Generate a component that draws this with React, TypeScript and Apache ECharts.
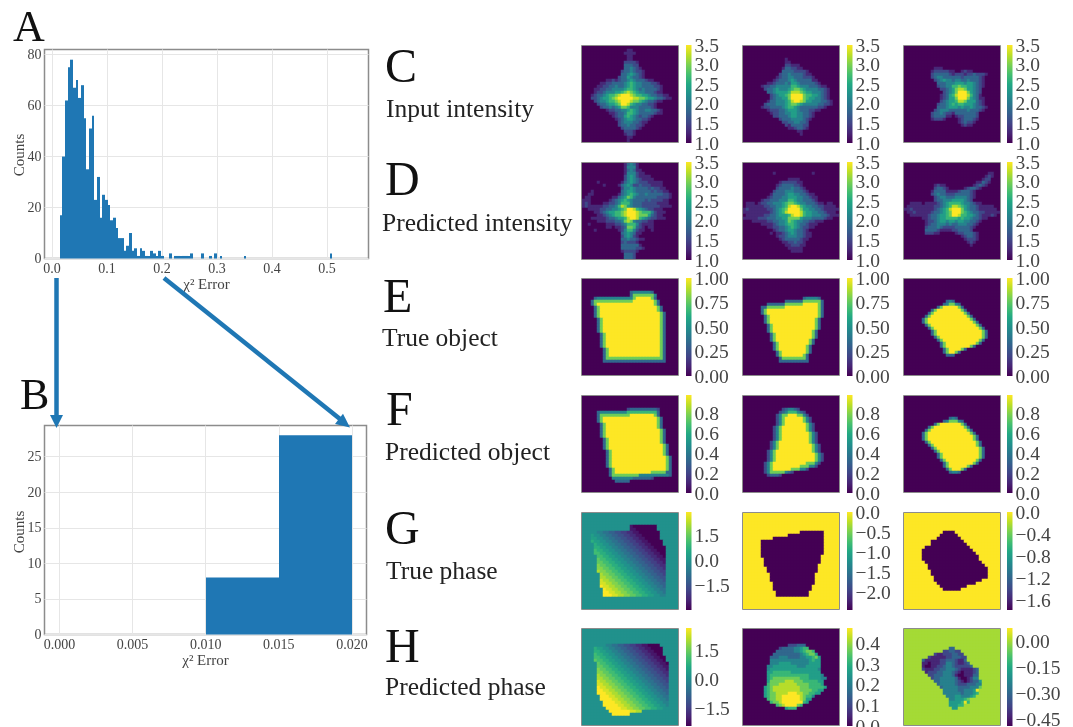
import React, { useEffect, useRef } from "react";
import * as echarts from "echarts";

const SERIF = "Liberation Serif";
const BLUE = "#1f77b4";
const VIRIDIS = ["#440154", "#482475", "#414487", "#355f8d", "#2a788e", "#21918c", "#22a884", "#44bf70", "#7ad151", "#bddf26", "#fde725"];

const histAStarts = [0.0139, 0.0188, 0.0236, 0.0285, 0.0333, 0.0382, 0.043, 0.0479, 0.0527, 0.0576, 0.0624, 0.0673, 0.0721, 0.077, 0.0818, 0.0867, 0.0915, 0.0964, 0.1012, 0.1061, 0.1109, 0.1158, 0.1206, 0.1255, 0.1303, 0.1352, 0.14, 0.1449, 0.1497, 0.1546, 0.1594, 0.1643, 0.1691, 0.174, 0.1788, 0.1837, 0.1885, 0.1934, 0.1982, 0.2127, 0.2224, 0.2273, 0.2321, 0.237, 0.2418, 0.2467, 0.2515, 0.2709, 0.2855, 0.2952, 0.3049, 0.3486, 0.505];
const histACounts = [17, 40, 62, 75, 78, 67, 70, 63, 68, 55, 35, 51, 56, 23, 32, 16, 25, 23, 21, 15, 16, 12, 8, 8, 3, 5, 10, 3, 4, 1, 4, 3, 1, 1, 3, 2, 1, 3, 1, 2, 1, 1, 1, 1, 1, 1, 2, 2, 1, 2, 1, 1, 2];
const histAWidth = 0.00485;
const histBStarts = [0.01, 0.015];
const histBCounts = [8, 28];
const histBWidth = 0.005;
const histAXTicks = [0, 0.1, 0.2, 0.3, 0.4, 0.5];
const histBXTicks = [0, 0.005, 0.01, 0.015, 0.02];
const histAYTicks = [0, 20, 40, 60, 80];
const histBYTicks = [0, 5, 10, 15, 20, 25];

const c1 = ["1|", "0x15 11", "0x14 1111", "0x15 11", "0x15 11", "0x14 22221", "0x14 33322", "0x14 334321", "0x13 23343221", "0x13 33454321", "0x12 233543321", "0x8 1121233454333211", "0x6 112233334565443332 21", "0x5 1122334334565443333221", "0x4 11223344445665434333321", "0x4 12234445567876544333211", "0x3 123345667899987665543322 11", "0x3 223455678999998877655433 211", "0x4 2344566789998776543321 1", "0x5 233455679986544332 21", "0x6 2334345776444333321", "0x8 1223344565433443321", "0x9 112334665433333211", "0x10 12335654323321", "0x11 123455433221", "0x12 2344433211", "0x12 233433221", "0x13 2333321", "0x14 2221", "0x14 1221", "0x15 11", "0x15 1"];
const c2 = ["4|", "0x14 1", "0x14 11", "0x14 22111", "0x13 1332211", "0x13 333322221", "0x12 23343333211", "0x11 1233443332221", "0x10 123334543333311", "0x8 112333435543333321", "0x6 1223344444665444333211", "0x7 2334544456776544443321", "0x8 334555568887655444321", "0x9 23455679999766554321", "0x9 23445579999765544321", "0x8 1334445689987554443321", "0x7 23334445677654444433221", "0x6 1223333456654333333221", "0x8 122233455543332211", "0x9 122334455443321", "0x10 22333455443321", "0x12 23334444321", "0x13 223344332", "0x14 21333322", "0x15 1123321", "0x18 11", "0x19 1"];
const c3 = ["7|", "0x10 111", "0x9 12222211 00 1211", "0x9 2333332122212232221", "0x9 234433333323333321", "0x10 23454434433433321", "0x11 3334445554554321", "0x11 2334466766554321", "0x12 22345788755432", "0x13 2345799975432", "0x12 12356899986431", "0x12 123557999754311", "0x12 234556887555321", "0x11 2334565665554321", "0x11 33345554544543321", "0x10 234443333334333 21", "0x9 2334322133333332", "0x9 2333311012233332", "0x9 1222100001233321", "0x18 123221", "0x19 1211"];
const d1 = ["0x14 13431", "0x14 14441", "0x14 134311", "0x14 1444211", "0x14 245421111", "0x14 2454321111", "0x5 1 0x7 134543222 11111", "0x7 1 0x4 134542232221111", "0x13 2445433332322 11", "0x3 1 0x9 345543333323 2211", "0x2 11 0x8 1345654334333332 21", "0 11 0x7 11345764333333322221", "111 0x6 123456543333232222 11", "121 0000 11223466643332222211 11", "121111122334687543332222221111", "0x2 1111223344567998654322111", "0x4 1123455667899987666421 11", "0x5 1123456678999877753211", "0x3 111112334556899865432211 1", "0x5 1112223347874332211", "0x2 1 0x5 111223466642 1111", "0x8 11 0 112377632101 1", "0x4 1 0x7 12466421100 1", "0x13 3454311", "0x13 245421", "0x13 33433211", "0x13 232221", "0x13 3333331", "0x13 33333221", "0x13 122221", "0x14 3332", "0x14 3332"];
const d2 = ["3|", "0x10 1 0x12 1", "1|", "0x15 1111", "0x12 12222211", "0x11 123333221", "0x11 2333343321", "0x10 233344433321", "0x9 133334554433211", "0x8 12333445554433211", "0x6 1223334446654433321", "0111 0 1223344456776544333211011", "0111111223344568998654433221111", "12111111223456799997554433211111", "11111111123456899998655443321 11", "0111111223345556899865544433211 1", "111112223334455777754443333211", "0001111122334457654433221 11", "0x6 11112344566543321 11", "0x8 1122334565432211", "0x10 123345543321", "0x9 1 0 1123454332 11", "0x11 122344433211", "0x12 1233333211", "0x13 11223221", "0x14 1122211", "0x15 11111", "0x16 1111"];
const d3 = ["3|", "0x28 11", "0x27 121", "0x26 122", "0x24 11321", "0x10 1211 0x9 12321", "0x10 23321 0x5 123321", "0x9 133331111233321", "0x9 234332223333321", "0x10 23443334444321", "0x10 2334445555432", "0011110111123456666544321 1", "011111111122345688765433211111", "1121111111234568999754332111111", "01121111123345679997654332211111", "0011111123345567998665543211121", "0x6 112334556666565543321 1", "0x7 12234554554554433 21", "0x7 123344434334443321", "0x7 23334322223333321", "0x7 3333211112233332", "0x7 22211 0x5 12233321", "0x19 123321", "0x20 12221", "0x21 121", "0x22 1"];

const e1 = ["4|", "0x16 34444443", "0x16 377777774", "0x4 3 4x12 7 9x5 73", "0x3 37 7x12 9x7 73", "0x3 37 9x19 73", "2|0x4 37 9x19 73", "2|0x4 37 9x20 73", "5|0x5 37 9x19 73", "5|0x6 37 9x18 73", "3|0x7 37 9x17 73", "0x7 37 7x17 73", "0x7 3x21"];
const e2 = ["6|", "0x20 344443", "0x14 3x6 7x6 3", "0x8 3x6 7x6 9x5 73", "0x6 3x2 7x6 9x11 73", "2|0x6 37 9x17 73", "0x7 37 9x16 73", "2|0x7 37 9x15 73", "2|0x8 37 9x14 73", "0x8 37 9x13 73", "2|0x9 37 9x12 73", "0x9 37 9x11 73", "0x10 37 9x10 73", "2|0x10 37 9x9 73", "0x11 37 9x8 73", "0x11 37 9x7 73", "0x12 37 7x6 73", "0x12 3x10"];
const e3 = ["7|", "0x14 343", "0x13 347743", "0x11 37 9x5 73", "0x9 37 9x8 73", "0x8 37 9x10 73", "0x7 37 9x12 73", "0x6 37 9x14 73", "0x6 37 9x15 73", "0x7 37 9x15 73", "0x8 37 9x15 73", "2|0x9 37 9x15 73", "0x10 37 9x14 73", "0x11 37 9x12 73", "0x12 37 9x10 73", "0x12 37 9x8 73", "0x13 37 9x4 73", "0x13 379973", "0x14 333"];
const f1 = ["4|", "0x15 2 3x9 2", "0x5 3 4x9 6x10 3", "0x5 37 7x9 9x8 73", "2|0x5 37 9x18 73", "2|0x6 37 9x17 73", "3|0x6 37 9x18 73", "2|0x7 37 9x17 73", "2|0x7 37 9x18 73", "2|0x8 37 9x17 73", "4|0x8 37 9x18 73", "0x9 37 9x17 73", "0x9 37 9x12 7x5 33", "0x9 3 7x9 4x10 3", "0x10 4x7 3x6 2", "0x11 3x5"];
const f2 = ["4|", "0x13 234432", "0x12 234666432", "0x11 24779997742", "2|0x11 247 9x6 742", "0x11 247 9x7 742", "2|0x10 247 9x8 742", "3|0x10 247 9x9 742", "0x9 247 9x10 742", "2|0x9 247 9x11 742", "0x8 247 9x12 742", "3|0x8 247 9x13 742", "0x7 247 9x11 7x3 42", "0x7 247 9x9 7x3 442", "0x7 247 9x6 7x3 442", "0x7 24 7x5 432", "0x8 23332"];
const f3 = ["7|", "0x15 343", "0x13 3477743", "0x10 37 9x7 73", "0x8 37 9x10 73", "0x7 37 9x12 73", "0x6 37 9x14 73", "2|0x6 37 9x15 73", "0x7 37 9x15 73", "0x8 37 9x14 73", "0x9 37 9x14 73", "0x10 37 9x13 73", "2|0x11 37 9x12 73", "0x12 37 9x10 73", "0x13 37 9x8 73", "0x13 37 9x6 73", "0x14 37 9x3 73", "0x15 3443"];
const g1 = ["4|", "8x16 100000000", "8x16 110000000", "8x3 887766554433221100 0x5", "8x3 9887766554433221100 0x4", "8x3 99887766554433221100 0x3", "8x3 a99887766554433221100 0x3", "8x4 a99887766554433221100 0x2", "8x4 aa99887766554433221100 0x2", "8x4 baa99887766554433221100 0", "8x4 bbaa99887766554433221100", "8x5 bbaa9988776655443322110", "8x5 cbbaa998877665544332211", "8x5 ccbbaa99887766554433221", "8x5 dccbbaa9988776655443322", "8x5 ddccbbaa998877665544332", "8x5 eddccbbaa99887766554433", "8x6 eddccbbaa9988776655443", "8x6 eeddccbbaa998877665544", "8x6 feeddccbbaa99887766554", "8x6 ffeeddccbbaa9988776655", "8x6 gffeeddccbbaa998877665", "8x7 gffeeddccbbaa99887766", "8x7 ggffeeddccbbaa9988776", "8x7 gggffeeddccbbaa998877"];
const g2 = ["6|", "9x19 0x8", "9x15 0x12", "9x10 0x17", "5|9x6 0x21", "9x6 0x20", "2|9x7 0x19", "9x7 0x18", "2|9x8 0x17", "3|9x9 0x15", "9x10 0x14", "2|9x10 0x13", "2|9x11 0x11"];
const g3 = ["6|", "9x13 0x4", "9x12 0x6", "9x11 0x8", "9x9 0x11", "9x9 0x12", "9x7 0x15", "9x6 0x17", "9x6 0x18", "2|9x6 0x19", "9x7 0x19", "9x8 0x19", "9x8 0x20", "2|9x9 0x19", "9x10 0x18", "9x10 0x16", "9x11 0x13", "9x12 0x9", "9x13 0x6"];
const h1 = ["5|", "8x6 887766554433221100 0x2", "8x4 a99887766554433221100 0x2", "8x4 aa99887766554433221100 0", "8x4 baa99887766554433221100", "8x4 bbaa99887766554433221100", "8x4 cbbaa9988776655443322110", "8x5 cbbaa9988776655443322110", "8x5 ccbbaa998877665544332211", "8x5 dccbbaa99887766554433221", "8x5 ddccbbaa9988776655443322", "8x5 eddccbbaa998877665544332", "8x5 eeddccbbaa99887766554433", "8x5 feeddccbbaa9988776655443", "8x5 ffeeddccbbaa998877665544", "8x5 gffeeddccbbaa99887766554", "8x5 ggffeeddccbbaa9988776655", "8x5 gggffeeddccbbaa998877665", "8x6 gggffeeddccbbaa99887766", "8x6 ggggffeeddccbbaa9988776", "8x7 ggggffeeddccbbaa998877", "8x7 gggggffeeddccbbaa99887", "8x8 gggggffeeddccbbaa9988", "8x9 gggggggffee", "8x10 gggggg"];
const h2 = ["5|", "0x15 222333", "0x12 2333344566", "0x11 3333334456776", "0x10 333333333456775", "0x9 3334443333445567 5", "0x9 4444444444444565 5", "0x9 4445555444444555 5", "0x8 445555555544455555", "0x8 455555555555555554", "0x8 556666665555555555", "0x8 5666666666666655554", "0x8 56777777777666555544", "0x8 57777788877766666 55", "0x8 677788888877776666 5", "0x7 5678888888887776666 65", "0x7 5678888888887777665 5", "0x7 567788889998877665 5", "0x7 5677889999998766 4", "0x8 677889999998755", "0x9 6778999999965", "0x11 678999976", "0x14 5666"];
const h3 = ["6|", "8x15 33", "8x13 223322", "8x10 2112223322", "8x8 2111112233322", "8x6 31111122333211 3", "8x6 11011122443211 23", "8x6 10011223443222 223", "8x6 2111223344432111123", "8x7 122233444321011123", "8x8 22333444310011133", "8x9 233444443100124 4", "8x10 3344444321012335", "8x11 34444432223334 4", "8x12 34444433334447", "8x13 44444334445 9", "8x13 44444434445 6", "8x14 4445544456", "8x15 4455 5 6 7", "8x15 5555696", "8x15 55566", "8x16 55"];

const tI = [1, 1.5, 2, 2.5, 3, 3.5];
const tE = [0, 0.25, 0.5, 0.75, 1];
const tF = [0, 0.2, 0.4, 0.6, 0.8];
const tG1 = [-1.5, 0, 1.5];
const tG2 = [-2, -1.5, -1, -0.5, 0];
const tG3 = [-1.6, -1.2, -0.8, -0.4, 0];
const tH2 = [0, 0.1, 0.2, 0.3, 0.4];
const tH3 = [-0.45, -0.3, -0.15, 0];

const panels: any[] = [
  { rows: c1, bg: "0", top: 9, min: 1, max: 3.5, ticks: tI, dec: 1 },
  { rows: c2, bg: "0", top: 9, min: 1, max: 3.5, ticks: tI, dec: 1 },
  { rows: c3, bg: "0", top: 9, min: 1, max: 3.5, ticks: tI, dec: 1 },
  { rows: d1, bg: "0", top: 9, min: 1, max: 3.5, ticks: tI, dec: 1 },
  { rows: d2, bg: "0", top: 9, min: 1, max: 3.5, ticks: tI, dec: 1 },
  { rows: d3, bg: "0", top: 9, min: 1, max: 3.5, ticks: tI, dec: 1 },
  { rows: e1, bg: "0", top: 9, min: 0, max: 1, ticks: tE, dec: 2 },
  { rows: e2, bg: "0", top: 9, min: 0, max: 1, ticks: tE, dec: 2 },
  { rows: e3, bg: "0", top: 9, min: 0, max: 1, ticks: tE, dec: 2 },
  { rows: f1, bg: "0", top: 9, min: 0, max: 0.99, ticks: tF, dec: 1 },
  { rows: f2, bg: "0", top: 9, min: 0, max: 0.99, ticks: tF, dec: 1 },
  { rows: f3, bg: "0", top: 9, min: 0, max: 0.99, ticks: tF, dec: 1 },
  { rows: g1, bg: "8", top: 16, min: -2.95, max: 2.9, ticks: tG1, dec: 1 },
  { rows: g2, bg: "9", top: 9, min: -2.42, max: 0, ticks: tG2, dec: 1 },
  { rows: g3, bg: "9", top: 9, min: -1.77, max: 0, ticks: tG3, dec: 1 },
  { rows: h1, bg: "8", top: 16, min: -2.43, max: 2.7, ticks: tG1, dec: 1 },
  { rows: h2, bg: "0", top: 9, min: 0, max: 0.475, ticks: tH2, dec: 1 },
  { rows: h3, bg: "8", top: 9.28, min: -0.487, max: 0.078, ticks: tH3, dec: 2 },
];

const letters: [string, number, number, number][] = [
  ["A", 13, 26, 44], ["B", 20, 394, 44], ["C", 385, 65, 48], ["D", 385, 178, 48],
  ["E", 383, 295, 48], ["F", 386, 408, 48], ["G", 385, 527, 48], ["H", 385, 645, 48],
];
const captions: [string, number, number][] = [
  ["Input intensity", 386, 108], ["Predicted intensity", 382, 222], ["True object", 382, 337],
  ["Predicted object", 385, 451], ["True phase", 386, 570], ["Predicted phase", 385, 686],
];
const countLabels: [number, number][] = [[19, 155], [19, 532]];

function decode(rows: string[], bg: string): string[] {
  const out: string[] = [];
  for (const row of rows) {
    const parts = row.split("|");
    const rep = parts.length > 1 ? +parts[0] : 1;
    const body = parts[parts.length - 1];
    const text = body.split(" ").filter(Boolean).map((t) => {
      const m = /^(.)x(\d+)$/.exec(t);
      return m ? m[1].repeat(+m[2]) : t;
    }).join("");
    for (let i = 0; i < rep; i++) out.push(text.padEnd(32, bg).slice(0, 32));
  }
  while (out.length < 32) out.push(bg.repeat(32));
  return out.slice(0, 32);
}

const CATS = Array.from({ length: 32 }, (_, i) => String(i));
const COLX = [582, 743, 904];
const BARX = [686, 847, 1007];
const ROWY = [46, 163, 279, 396, 513, 629];

function histSeries(xi: number, starts: number[], counts: number[], w: number) {
  return {
    type: "custom", xAxisIndex: xi, yAxisIndex: xi, silent: true,
    data: starts.map((s, i) => [s, s + w, counts[i]]),
    encode: { x: [0, 1], y: 2 },
    renderItem: (_: any, api: any) => {
      const a = api.coord([api.value(0), api.value(2)]);
      const b = api.coord([api.value(1), 0]);
      const x0 = Math.round(a[0]);
      const x1 = Math.round(b[0]);
      return { type: "rect", shape: { x: x0, y: a[1], width: x1 - x0, height: b[1] - a[1] }, style: { fill: BLUE } };
    },
  };
}

function histAxes(xTicks: number[], yTicks: number[], dec: number, xMin: number, xMax: number, yMax: number) {
  const label = { fontFamily: SERIF, fontSize: 14, color: "#444", showMinLabel: true, showMaxLabel: true };
  const split = { show: true, lineStyle: { color: "#e6e6e6", width: 1 } };
  const nameStyle = { fontFamily: SERIF, fontSize: 15, color: "#444" };
  return {
    x: {
      type: "value", gridIndex: 0, min: xMin, max: xMax, interval: 1, name: "χ² Error", nameLocation: "middle", nameGap: 18,
      nameTextStyle: nameStyle, axisLine: { show: false },
      axisTick: { show: false, customValues: xTicks },
      axisLabel: { ...label, margin: 3, customValues: xTicks, formatter: (v: number) => v.toFixed(dec) },
      splitLine: split,
    },
    y: {
      type: "value", gridIndex: 0, min: 0, max: yMax, interval: 100,
      axisLine: { show: false },
      axisTick: { show: false, customValues: yTicks },
      axisLabel: { ...label, margin: 3, customValues: yTicks },
      splitLine: split,
    },
  };
}

export default function App() {
  const ref = useRef<HTMLDivElement>(null);
  useEffect(() => {
    const chart = echarts.init(ref.current!, undefined, { renderer: "svg" });
    const grid: any[] = [
      { left: 44.5, top: 49.5, width: 324, height: 209, show: true, borderColor: "#8c8c8c", borderWidth: 1.5, backgroundColor: "#fff" },
      { left: 44.5, top: 425.5, width: 322, height: 209, show: true, borderColor: "#8c8c8c", borderWidth: 1.5, backgroundColor: "#fff" },
    ];
    const A = histAxes(histAXTicks, histAYTicks, 1, -0.0135, 0.5756, 82);
    const B = histAxes(histBXTicks, histBYTicks, 3, -0.001025, 0.021, 29.37);
    const xAxis: any[] = [A.x, { ...B.x, gridIndex: 1 }];
    const yAxis: any[] = [A.y, { ...B.y, gridIndex: 1 }];
    const series: any[] = [histSeries(0, histAStarts, histACounts, histAWidth), histSeries(1, histBStarts, histBCounts, histBWidth)];
    const visualMap: any[] = [];
    const graphic: any[] = [];

    panels.forEach((p, idx) => {
      const col = idx % 3;
      const row = Math.floor(idx / 3);
      const left = COLX[col];
      const top = ROWY[row];
      const heatIdx = grid.length;
      grid.push({ left, top, width: 96, height: 96 });
      xAxis.push({ type: "category", gridIndex: heatIdx, data: CATS, show: false });
      yAxis.push({ type: "category", gridIndex: heatIdx, data: CATS, show: false, inverse: true });
      const lines = decode(p.rows, p.bg);
      const data: number[][] = [];
      lines.forEach((ln, r) => {
        for (let c = 0; c < 32; c++) {
          const lv = parseInt(ln[c], 36) || 0;
          data.push([c, r, p.min + (Math.min(lv, p.top) / p.top) * (p.max - p.min)]);
        }
      });
      const sIdx = series.length;
      series.push({ type: "heatmap", xAxisIndex: heatIdx, yAxisIndex: heatIdx, data, silent: true, progressive: 0, itemStyle: { borderWidth: 0 }, emphasis: { disabled: true } });
      visualMap.push({ show: false, seriesIndex: sIdx, dimension: 2, min: p.min, max: p.max, inRange: { color: VIRIDIS } });
      graphic.push({ type: "rect", z: 50, silent: true, shape: { x: left - 0.5, y: top - 0.5, width: 97, height: 97 }, style: { fill: "none", stroke: "#8c8c8c", lineWidth: 1 } });

      const barIdx = grid.length;
      grid.push({
        left: BARX[col], top: top - 1, width: 5.5, height: 98, show: true, borderWidth: 0,
        backgroundColor: new echarts.graphic.LinearGradient(0, 1, 0, 0, VIRIDIS.map((color, i) => ({ offset: i / 10, color }))),
      });
      xAxis.push({ type: "value", gridIndex: barIdx, show: false, min: 0, max: 1 });
      yAxis.push({ type: "value", gridIndex: barIdx, show: false, min: p.min, max: p.max, interval: 10, splitLine: { show: false } });
      p.ticks.forEach((v: number) => {
        graphic.push({
          type: "text", silent: true, x: BARX[col] + 8.5, y: top - 1 + ((p.max - v) / (p.max - p.min)) * 98,
          style: { text: v.toFixed(p.dec).replace("-", "\u2212"), fontFamily: SERIF, fontSize: 19.5, lineHeight: 15, fill: "#444", verticalAlign: "middle", align: "left" },
        });
      });
    });

    letters.forEach(([text, x, y, size]) => {
      graphic.push({ type: "text", silent: true, x, y, style: { text, fontFamily: SERIF, fontSize: size, fill: "#111", verticalAlign: "middle", align: "left" } });
    });
    captions.forEach(([text, x, y]) => {
      graphic.push({ type: "text", silent: true, x, y, style: { text, fontFamily: SERIF, fontSize: 25.5, fill: "#222", verticalAlign: "middle", align: "left" } });
    });
    countLabels.forEach(([x, y]) => {
      graphic.push({ type: "text", silent: true, x, y, rotation: Math.PI / 2, style: { text: "Counts", fontFamily: SERIF, fontSize: 15, fill: "#444", verticalAlign: "middle", align: "center" } });
    });
    graphic.push(
      { type: "line", z: 60, silent: true, shape: { x1: 56.5, y1: 278, x2: 56.5, y2: 416 }, style: { stroke: BLUE, lineWidth: 4.5 } },
      { type: "polygon", z: 60, silent: true, shape: { points: [[50, 415], [63, 415], [56.5, 428]] }, style: { fill: BLUE } },
      { type: "line", z: 60, silent: true, shape: { x1: 164, y1: 278, x2: 340, y2: 419 }, style: { stroke: BLUE, lineWidth: 4.5 } },
      { type: "polygon", z: 60, silent: true, shape: { points: [[335, 424], [343, 413.7], [350, 427.5]] }, style: { fill: BLUE } },
    );

    chart.setOption({ animation: false, backgroundColor: "#fff", grid, xAxis, yAxis, series, visualMap, graphic });
    return () => chart.dispose();
  }, []);
  return <div ref={ref} style={{ position: "fixed", left: 0, top: 0, width: 1073, height: 727, filter: "blur(0.6px)" }} />;
}
